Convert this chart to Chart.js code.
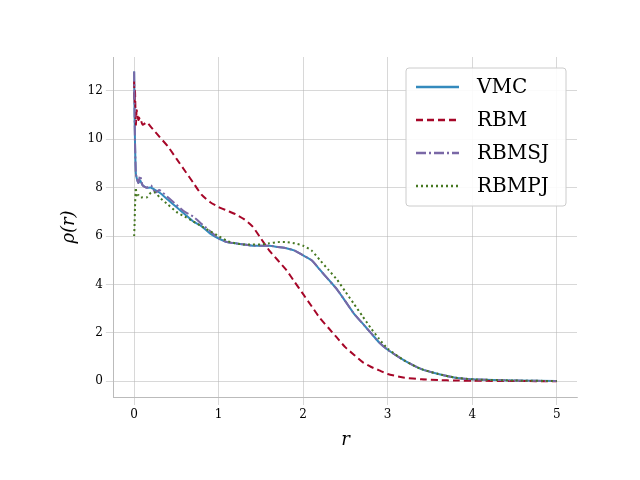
<!DOCTYPE html><html><head><script src="https://cdn.jsdelivr.net/npm/chart.js@4"></script>
<style>body{margin:0;background:#fff}</style></head><body><canvas id="c" width="640" height="480"></canvas>
<script>
const r = [0,0.005,0.01,0.02,0.03,0.05,0.07,0.1,0.15,0.2,0.25,0.3,0.4,0.5,0.6,0.7,0.8,0.9,1.0,1.1,1.2,1.3,1.4,1.5,1.6,1.7,1.8,1.9,2.0,2.1,2.2,2.3,2.4,2.5,2.6,2.7,2.8,2.9,3.0,3.2,3.4,3.6,3.8,4.0,4.5,5.0];
const vmc   = [12.8,11.0,9.9,8.6,8.4,8.2,8.3,8.1,8.0,8.0,7.9,7.8,7.5,7.2,6.9,6.6,6.4,6.1,5.9,5.75,5.7,5.65,5.6,5.6,5.6,5.55,5.5,5.4,5.2,5.0,4.6,4.2,3.8,3.3,2.8,2.4,2.0,1.6,1.3,0.85,0.5,0.3,0.15,0.08,0.03,0.01];
const rbm   = [12.4,11.5,12.0,10.6,11.2,10.8,10.9,10.6,10.7,10.5,10.3,10.1,9.7,9.2,8.7,8.2,7.7,7.4,7.2,7.05,6.9,6.7,6.4,5.9,5.4,5.0,4.6,4.1,3.6,3.1,2.6,2.2,1.8,1.4,1.1,0.8,0.6,0.45,0.3,0.15,0.08,0.05,0.03,0.02,0.01,0.0];
const rbmsj = [12.8,11.0,9.9,8.6,8.4,8.2,8.5,8.1,8.0,8.1,7.8,7.9,7.6,7.3,7.0,6.8,6.5,6.2,5.9,5.75,5.7,5.65,5.6,5.6,5.6,5.55,5.5,5.4,5.2,5.0,4.6,4.2,3.8,3.3,2.8,2.4,2.0,1.6,1.3,0.85,0.5,0.3,0.15,0.08,0.03,0.01];
const rbmpj = [6.0,6.5,7.2,8.0,7.6,7.7,7.6,7.6,7.6,7.8,7.8,7.6,7.3,7.0,6.8,6.6,6.4,6.2,6.0,5.8,5.7,5.65,5.65,5.65,5.7,5.75,5.75,5.7,5.6,5.4,5.0,4.6,4.2,3.7,3.2,2.7,2.2,1.75,1.35,0.85,0.5,0.3,0.15,0.08,0.03,0.01];
const mk = a => r.map((x,i)=>({x, y:a[i]}));
const legendPlugin = {id:'lg', afterDraw(ch){
  const ctx=ch.ctx, a=ch.chartArea; ctx.save();
  const bx=a.right-171, by=a.top+11, bw=160, bh=138;
  ctx.fillStyle='rgba(255,255,255,0.9)'; ctx.strokeStyle='#ccc'; ctx.lineWidth=1;
  ctx.beginPath(); ctx.roundRect(bx,by,bw,bh,3); ctx.fill(); ctx.stroke();
  ch.data.datasets.forEach((d,i)=>{
    const y=by+19+i*33;
    ctx.strokeStyle=d.borderColor; ctx.lineWidth=2.5; ctx.setLineDash(d.borderDash||[]);
    ctx.beginPath(); ctx.moveTo(bx+10,y); ctx.lineTo(bx+53,y); ctx.stroke(); ctx.setLineDash([]);
    ctx.fillStyle='#000'; ctx.font='20px "DejaVu Serif"'; ctx.textBaseline='middle';
    ctx.fillText(d.label,bx+71,y+1);
  }); ctx.restore();
}};
new Chart(document.getElementById('c'), {
 type:'line',
 data:{datasets:[
  {label:'VMC',data:mk(vmc),borderColor:'#348ABD',borderWidth:2,pointRadius:0,tension:0.2,order:4},
  {label:'RBM',data:mk(rbm),borderColor:'#A60628',borderWidth:2,borderDash:[7,4],pointRadius:0,tension:0.2,order:3},
  {label:'RBMSJ',data:mk(rbmsj),borderColor:'#7A68A6',borderWidth:2,borderDash:[10,3,2,3],pointRadius:0,tension:0.2,order:2},
  {label:'RBMPJ',data:mk(rbmpj),borderColor:'#467821',borderWidth:2,borderDash:[2,3],pointRadius:0,tension:0.2,order:1}
 ]},
 plugins:[legendPlugin],
 options:{responsive:false,animation:false,
  layout:{padding:{left:55,right:63,top:57,bottom:25}},
  plugins:{legend:{display:false},tooltip:{enabled:false}},
  scales:{
   x:{type:'linear',min:-0.24,max:5.24,afterBuildTicks:s=>{s.ticks=[0,1,2,3,4,5].map(v=>({value:v}))},
      grid:{color:'#b0b0b0',lineWidth:0.5,borderDash:[3,2]},border:{color:'#bbb'},
      ticks:{font:{family:'DejaVu Serif',size:12},color:'#000'},
      title:{display:true,text:'r',font:{family:'DejaVu Serif',size:18,style:'italic'},color:'#000'}},
   y:{min:-0.65,max:13.4,afterBuildTicks:s=>{s.ticks=[0,2,4,6,8,10,12].map(v=>({value:v}))},
      grid:{color:'#b0b0b0',lineWidth:0.5,borderDash:[3,2]},border:{color:'#bbb'},
      ticks:{font:{family:'DejaVu Serif',size:12},color:'#000'},
      title:{display:true,text:'ρ(r)',font:{family:'DejaVu Serif',size:18,style:'italic'},color:'#000'}}
  }}
});
</script></body></html>
